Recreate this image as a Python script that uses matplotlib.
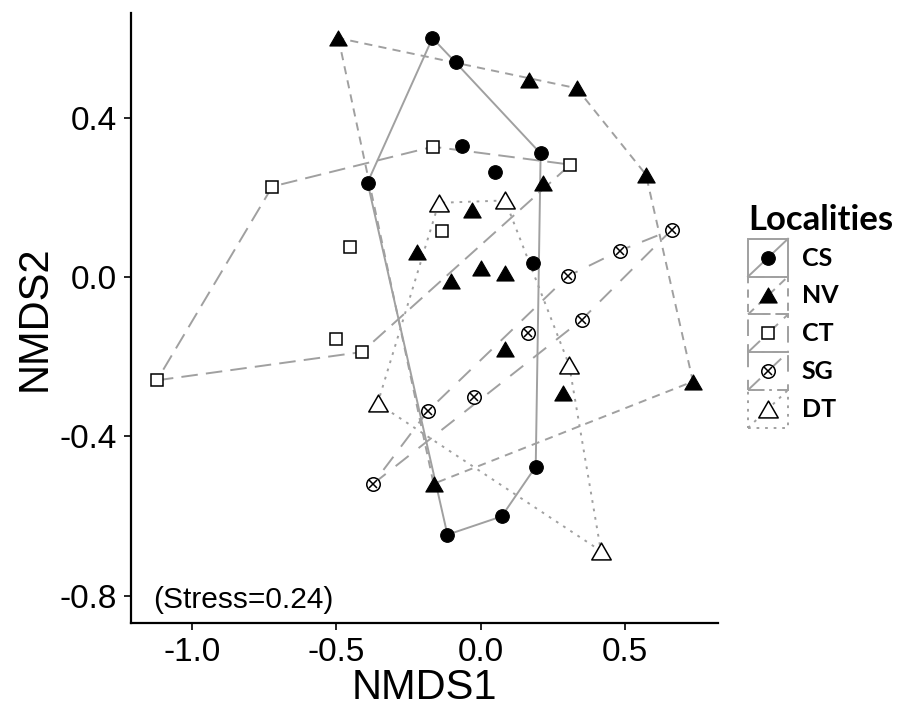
import numpy as np
import matplotlib
matplotlib.use('Agg')
import matplotlib.pyplot as plt
from matplotlib.path import Path
from matplotlib.patches import Rectangle
from matplotlib.lines import Line2D
from matplotlib.legend_handler import HandlerBase

# NMDS scores per locality
cs_x = [-0.167, -0.087, -0.392, -0.063, 0.049, 0.208, 0.181, 0.191, 0.073, -0.115]
cs_y = [0.601, 0.540, 0.238, 0.329, 0.265, 0.311, 0.036, -0.476, -0.601, -0.647]

nv_x = [-0.493, 0.167, 0.333, 0.573, 0.215, -0.031, -0.219, -0.101, 0.0, 0.083, 0.083, 0.285, 0.736, -0.163]
nv_y = [0.601, 0.495, 0.475, 0.258, 0.238, 0.170, 0.064, -0.009, 0.023, 0.011, -0.181, -0.292, -0.262, -0.519]

ct_x = [-0.722, -0.165, 0.311, -0.133, -0.452, -0.503, -0.412, -1.122]
ct_y = [0.228, 0.328, 0.283, 0.116, 0.076, -0.154, -0.188, -0.259]

sg_x = [0.662, 0.483, 0.303, 0.350, 0.164, -0.024, -0.183, -0.374]
sg_y = [0.119, 0.067, 0.003, -0.107, -0.140, -0.300, -0.336, -0.520]

dt_x = [-0.145, 0.085, 0.307, -0.357, 0.417]
dt_y = [0.187, 0.193, -0.221, -0.317, -0.688]

groups = ['CS', 'NV', 'CT', 'SG', 'DT']
stress = 0.24

LINE_COL = '#a0a0a0'
LW = 1.4
# ggplot linetypes: solid, 22, 42, 44, 13
dash = {
    'CS': '-',
    'NV': (0, (4.2, 3.2)),
    'CT': (0, (8.5, 4.2)),
    'SG': (0, (8.5, 6.5)),
    'DT': (0, (1.4, 3.0)),
}

tri = Path([(-0.5, -0.433), (0.5, -0.433), (0, 0.433), (-0.5, -0.433)],
           [Path.MOVETO, Path.LINETO, Path.LINETO, Path.CLOSEPOLY])

# marker specs: list of (marker, size, facecolor, edgewidth)
mk = {
    'CS': [('o', 9.8, 'black', 0.8)],
    'NV': [(tri, 12.5, 'black', 0.8)],
    'CT': [('s', 8.7, 'white', 1.1)],
    'SG': [('o', 9.7, 'white', 1.1), ('x', 6.4, 'none', 1.1)],
    'DT': [(tri, 14, 'white', 1.1)],
}


def hull(xs, ys):
    pts = sorted(set(zip(xs, ys)))

    def cross(o, a, b):
        return (a[0] - o[0]) * (b[1] - o[1]) - (a[1] - o[1]) * (b[0] - o[0])
    lower, upper = [], []
    for p in pts:
        while len(lower) >= 2 and cross(lower[-2], lower[-1], p) <= 0:
            lower.pop()
        lower.append(p)
    for p in reversed(pts):
        while len(upper) >= 2 and cross(upper[-2], upper[-1], p) <= 0:
            upper.pop()
        upper.append(p)
    h = lower[:-1] + upper[:-1]
    h.append(h[0])
    return np.array(h)


class KeyHandler(HandlerBase):
    def create_artists(self, legend, orig_handle, xdescent, ydescent,
                       width, height, fontsize, trans):
        g = orig_handle.get_label()
        x0, y0 = -xdescent, -ydescent
        rect = Rectangle((x0, y0), width, height, fill=False, ec=LINE_COL,
                         lw=LW, ls=dash[g], transform=trans)
        diag = Line2D([x0, x0 + width], [y0, y0 + height], color=LINE_COL,
                      lw=LW, ls=dash[g], transform=trans)
        arts = [rect, diag]
        for m, s, fc, ew in mk[g]:
            arts.append(Line2D([x0 + width / 2], [y0 + height / 2], marker=m,
                               ms=s, mfc=fc, mec='black', mew=ew, ls='none',
                               transform=trans))
        return arts


plt.rcParams['font.family'] = ['Liberation Sans', 'DejaVu Sans']

fig = plt.figure(figsize=(9.14, 7.08), dpi=100)
ax = fig.add_axes([0.1433, 0.12, 0.6423, 0.8616])

data = {'CS': (cs_x, cs_y), 'NV': (nv_x, nv_y), 'CT': (ct_x, ct_y),
        'SG': (sg_x, sg_y), 'DT': (dt_x, dt_y)}

handles = []
for g in groups:
    xs, ys = data[g]
    h = hull(xs, ys)
    ax.plot(h[:, 0], h[:, 1], color=LINE_COL, lw=LW, ls=dash[g], zorder=1)
for g in groups:
    xs, ys = data[g]
    for m, s, fc, ew in mk[g]:
        ax.plot(xs, ys, ls='none', marker=m, ms=s, mfc=fc, mec='black',
                mew=ew, zorder=3)
    handles.append(Line2D([], [], label=g))

ax.text(-1.135, -0.81, '(Stress=%.2f)' % stress, fontsize=21.5,
        ha='left', va='center')

ax.set_xlim(-1.212, 0.823)
ax.set_ylim(-0.869, 0.664)
ax.set_xticks([-1.0, -0.5, 0.0, 0.5])
ax.set_yticks([-0.8, -0.4, 0.0, 0.4])
ax.set_xticklabels(['-1.0', '-0.5', '0.0', '0.5'])
ax.set_yticklabels(['-0.8', '-0.4', '0.0', '0.4'])
ax.tick_params(labelsize=24, length=5, width=1.2, pad=5, colors='black')
for s in ['top', 'right']:
    ax.spines[s].set_visible(False)
for s in ['left', 'bottom']:
    ax.spines[s].set_linewidth(1.6)
ax.set_xlabel('NMDS1', fontsize=30, labelpad=0)
ax.set_ylabel('NMDS2', fontsize=30, labelpad=4)

leg = fig.legend(handles=handles, labels=groups,
                 handler_map={Line2D: KeyHandler()},
                 loc='upper left', bbox_to_anchor=(748 / 914, 1 - 204 / 708),
                 frameon=False, title='Localities',
                 prop={'family': 'Lato', 'weight': 'bold', 'size': 18},
                 handlelength=1.6, handleheight=1.95, labelspacing=0,
                 handletextpad=0.55, borderpad=0, borderaxespad=0)
leg.get_title().set_fontproperties({'family': 'Lato', 'weight': 'bold', 'size': 25})
leg._legend_box.align = 'left'
leg._legend_box.sep = 2

fig.savefig('out.png', dpi=100)
